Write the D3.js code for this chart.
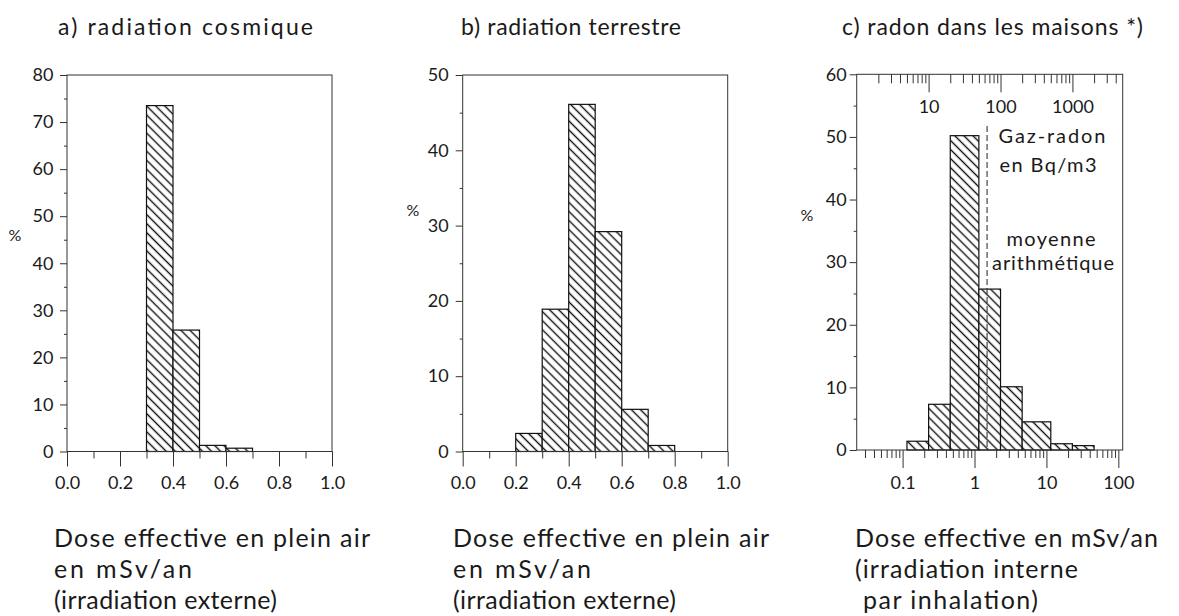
<!DOCTYPE html>
<html>
  <head>
    <meta charset="utf-8">
    <title>Doses</title>
    <style>
      body { margin: 0; background: #fff; }
      svg text { font-family: Lato, "Noto Sans", sans-serif; fill: #1a1a1a; }
      .axis path, .axis line { stroke: #333; }
    </style>
  </head>
  <body>
    <div id="chart"></div>
    <script src="https://d3js.org/d3.v7.min.js"></script>
    <script>

      // a) cosmic radiation, mSv/an bins and % per bin
      var cosmicEdges = [0.3, 0.4, 0.5, 0.6, 0.7];
      var cosmicPct   = [73.5, 25.8, 1.3, 0.7];

      // b) terrestrial radiation
      var terrEdges = [0.2, 0.3, 0.4, 0.5, 0.6, 0.7, 0.8];
      var terrPct   = [2.4, 18.9, 46.1, 29.2, 5.6, 0.8];

      // c) radon in houses, bins in Bq/m3
      var radonEdgesBq = [5, 10, 20, 50, 100, 200, 500, 1000, 2000];
      var radonPct     = [1.4, 7.3, 50.2, 25.7, 10.1, 4.5, 1.0, 0.7];
      var radonMeanBq  = 65;
      var bqToMsv      = 0.023;

      var linTicks    = [0, 0.2, 0.4, 0.6, 0.8, 1.0];
      var linMinor    = [0.1, 0.3, 0.5, 0.7, 0.9];
      var logTicksMsv = [0.1, 1, 10, 100];
      var logTicksBq  = [10, 100, 1000];

      var titles = ["a) radiation cosmique", "b) radiation terrestre", "c) radon dans les maisons *)"];
      var captions = [
        ["Dose effective en plein air", "en mSv/an", "(irradiation externe)"],
        ["Dose effective en plein air", "en mSv/an", "(irradiation externe)"],
        ["Dose effective en mSv/an", "(irradiation interne", "par inhalation)"]
      ];
      // measured text widths in the original, used to match the wide lettering
      var titleLen = [255, 220, 301];
      var capLen = [[316, 138, 223], [316, 138, 223], [303, 223, 175]];

      var W = 1179, H = 616;
      var svg = d3.select("#chart").append("svg")
          .attr("width", W).attr("height", H);

      svg.append("rect").attr("width", W).attr("height", H).attr("fill", "#fff");

      var defs = svg.append("defs");
      var pat = defs.append("pattern")
          .attr("id", "hatch")
          .attr("patternUnits", "userSpaceOnUse")
          .attr("width", 6.4).attr("height", 6.4)
          .attr("patternTransform", "rotate(45)");
      pat.append("rect").attr("width", 6.4).attr("height", 6.4).attr("fill", "#fff");
      pat.append("line")
          .attr("x1", 0).attr("x2", 6.4).attr("y1", 3.2).attr("y2", 3.2)
          .attr("stroke", "#111").attr("stroke-width", 1.4);

      var panels = [
        { left: 67,    right: 332,   top: 75,   bottom: 451.5, ymax: 80, edges: cosmicEdges, pct: cosmicPct,
          titleX: 58, capX: [54, 54, 54], pctX: 15, pctY: 235, ypad: 6.5 },
        { left: 462.7, right: 727.7, top: 75,   bottom: 451.5, ymax: 50, edges: terrEdges, pct: terrPct,
          titleX: 461, capX: [453, 453, 453], pctX: 413, pctY: 210, ypad: 7 },
        { left: 856.7, right: 1122.7, top: 74.3, bottom: 450, ymax: 60, edges: radonEdgesBq, pct: radonPct,
          titleX: 842, capX: [855, 855, 863], pctX: 807, pctY: 215, ypad: 3, log: true }
      ];

      panels.forEach(function(p, k) {
        var g = svg.append("g");

        var y = d3.scaleLinear().domain([0, p.ymax]).range([p.bottom, p.top]);
        var x, xBar;
        if (p.log) {
          x = d3.scaleLog().domain([bqToMsv * 1, bqToMsv * 5000]).range([p.left, p.right]);
          xBar = d3.scaleLog().domain([1, 5000]).range([p.left, p.right]);
        } else {
          x = d3.scaleLinear().domain([0, 1]).range([p.left, p.right]);
          xBar = x;
        }

        // bars
        var bins = p.pct.map(function(v, i) { return { x0: p.edges[i], x1: p.edges[i + 1], v: v }; });
        g.selectAll("rect.bar").data(bins).enter().append("rect")
            .attr("class", "bar")
            .attr("x", function(d) { return xBar(d.x0); })
            .attr("width", function(d) { return xBar(d.x1) - xBar(d.x0); })
            .attr("y", function(d) { return y(d.v); })
            .attr("height", function(d) { return y(0) - y(d.v); })
            .attr("fill", "url(#hatch)")
            .attr("stroke", "#111")
            .attr("stroke-width", 1.2);

        // y axis
        var yMajor = d3.range(0, p.ymax + 1, 10);
        var yMinor = d3.range(5, p.ymax, 10);
        g.append("g").attr("class", "axis")
            .attr("transform", "translate(" + p.left + ",0)")
            .call(d3.axisLeft(y).tickValues(yMajor).tickSize(7).tickPadding(p.ypad).tickSizeOuter(0))
            .call(function(a) { a.selectAll("text").style("font-size", "18px"); a.select(".domain").remove(); });
        g.append("g").attr("class", "axis")
            .attr("transform", "translate(" + p.left + ",0)")
            .call(d3.axisLeft(y).tickValues(yMinor).tickSize(3).tickFormat("").tickSizeOuter(0))
            .call(function(a) { a.select(".domain").remove(); });

        // x axis
        if (p.log) {
          var minorB = x.ticks().filter(function(v) { return logTicksMsv.indexOf(+v.toPrecision(1)) < 0; });
          g.append("g").attr("class", "axis")
              .attr("transform", "translate(0," + p.bottom + ")")
              .call(d3.axisBottom(x).tickValues(logTicksMsv).tickSize(18).tickPadding(8).tickSizeOuter(0)
                  .tickFormat(d3.format("~g")))
              .call(function(a) { a.selectAll("text").style("font-size", "18px"); a.select(".domain").remove(); });
          g.append("g").attr("class", "axis")
              .attr("transform", "translate(0," + p.bottom + ")")
              .call(d3.axisBottom(x).tickValues(minorB).tickSize(8).tickFormat("").tickSizeOuter(0))
              .call(function(a) { a.select(".domain").remove(); });

          // top axis in Bq/m3, ticks pointing into the plot
          var minorT = xBar.ticks().filter(function(v) { return logTicksBq.indexOf(+v.toPrecision(1)) < 0 && v > 1 && v < 5000; });
          g.append("g").attr("class", "axis")
              .attr("transform", "translate(0," + p.top + ")")
              .call(d3.axisBottom(xBar).tickValues(logTicksBq).tickSize(18).tickPadding(8).tickSizeOuter(0)
                  .tickFormat(d3.format("~g")))
              .call(function(a) { a.selectAll("text").style("font-size", "18px"); a.select(".domain").remove(); });
          g.append("g").attr("class", "axis")
              .attr("transform", "translate(0," + p.top + ")")
              .call(d3.axisBottom(xBar).tickValues(minorT).tickSize(9).tickFormat("").tickSizeOuter(0))
              .call(function(a) { a.select(".domain").remove(); });

          // arithmetic mean
          g.append("line")
              .attr("x1", xBar(radonMeanBq)).attr("x2", xBar(radonMeanBq))
              .attr("y1", 126).attr("y2", p.bottom)
              .attr("stroke", "#222").attr("stroke-width", 1)
              .attr("stroke-dasharray", "6,3");

          var notes = [["Gaz-radon", 1052, 143, 107], ["en Bq/m3", 1048, 172, 97],
                       ["moyenne", 1051, 246, 89], ["arithmétique", 1053, 270, 122]];
          g.selectAll("text.note").data(notes).enter().append("text")
              .attr("class", "note")
              .attr("x", function(d) { return d[1]; })
              .attr("y", function(d) { return d[2]; })
              .attr("text-anchor", "middle")
              .attr("textLength", function(d) { return d[3]; })
              .attr("lengthAdjust", "spacing")
              .style("font-size", "20px")
              .text(function(d) { return d[0]; });
        } else {
          g.append("g").attr("class", "axis")
              .attr("transform", "translate(0," + p.bottom + ")")
              .call(d3.axisBottom(x).tickValues(linTicks).tickSize(15).tickPadding(10).tickSizeOuter(0)
                  .tickFormat(d3.format(".1f")))
              .call(function(a) { a.selectAll("text").style("font-size", "18px"); a.select(".domain").remove(); });
          g.append("g").attr("class", "axis")
              .attr("transform", "translate(0," + p.bottom + ")")
              .call(d3.axisBottom(x).tickValues(linMinor).tickSize(7).tickFormat("").tickSizeOuter(0))
              .call(function(a) { a.select(".domain").remove(); });
        }

        // frame
        g.append("rect")
            .attr("x", p.left).attr("y", p.top)
            .attr("width", p.right - p.left).attr("height", p.bottom - p.top)
            .attr("fill", "none").attr("stroke", "#333").attr("stroke-width", 1);

        g.append("text").attr("x", p.pctX).attr("y", p.pctY)
            .attr("text-anchor", "middle").attr("dy", "0.35em")
            .style("font-size", "16px").text("%");

        g.append("text").attr("x", p.titleX).attr("y", 35)
            .attr("textLength", titleLen[k]).attr("lengthAdjust", "spacing")
            .style("font-size", "23px").text(titles[k]);

        g.selectAll("text.cap").data(captions[k]).enter().append("text")
            .attr("class", "cap")
            .attr("x", function(d, i) { return p.capX[i]; })
            .attr("y", function(d, i) { return 547 + i * 31; })
            .attr("textLength", function(d, i) { return capLen[k][i]; })
            .attr("lengthAdjust", "spacing")
            .style("font-size", "25px")
            .text(function(d) { return d; });
      });

    </script>
  </body>
</html>
